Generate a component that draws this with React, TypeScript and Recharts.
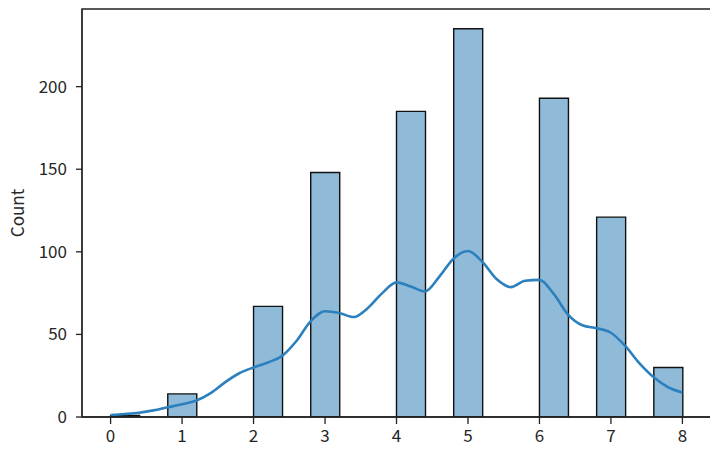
import React from 'react';
import { ComposedChart, Bar, Line, XAxis, YAxis, ReferenceArea } from 'recharts';

// Histogram: 20 bins of width 0.4 spanning 0..8
const binLower = [0, 0.4, 0.8, 1.2, 1.6, 2.0, 2.4, 2.8, 3.2, 3.6, 4.0, 4.4, 4.8, 5.2, 5.6, 6.0, 6.4, 6.8, 7.2, 7.6];
const binCounts = [1, 0, 14, 0, 0, 67, 0, 148, 0, 0, 185, 0, 235, 0, 0, 193, 0, 121, 0, 30];

// KDE curve (scaled to counts)
const kdeX = [0, 0.2, 0.4, 0.6, 0.8, 1.0, 1.2, 1.4, 1.6, 1.8, 2.0, 2.2, 2.4, 2.6, 2.8, 3.0, 3.2, 3.4, 3.6, 3.8, 4.0,
  4.2, 4.4, 4.6, 4.8, 5.0, 5.2, 5.4, 5.6, 5.8, 6.0, 6.2, 6.4, 6.6, 6.8, 7.0, 7.2, 7.4, 7.6, 7.8, 8.0];
const kdeY = [1.2, 1.8, 2.6, 4.0, 5.9, 7.7, 10.0, 14.5, 21, 26.5, 30, 33, 37, 46, 58, 64, 63, 60.5, 66, 75, 81.5,
  79, 76, 85, 96, 100.5, 94, 83.5, 78.6, 82.5, 83, 74.5, 62, 55.5, 53.7, 51, 43, 32.5, 24, 18, 14.8];

const xTicks = [0, 1, 2, 3, 4, 5, 6, 7, 8];
const yTicks = [0, 50, 100, 150, 200];
const xDomain = [-0.4, 8.4];
const yDomain = [0, 247];

const binWidth = 0.4;
// pad one empty bin on each side so the band axis spans -0.4..8.4
const histData = [
  { bin: 'pad-left', count: null as number | null },
  ...binLower.map((lo, i) => ({ bin: `${lo.toFixed(1)}-${(lo + binWidth).toFixed(1)}`, count: binCounts[i] > 0 ? binCounts[i] : null })),
  { bin: 'pad-right', count: null as number | null },
];
const kdeData = kdeX.map((x, i) => ({ x, v: kdeY[i] }));

const FONT = '"Noto Sans CJK JP", "Noto Sans", sans-serif';
const TEXT = '#262626';

const CountLabel = (props: any) => {
  const vb = props.viewBox || {};
  const cx = 16.5;
  const cy = (vb.y ?? 0) + (vb.height ?? 0) / 2;
  return (
    <text x={cx} y={cy} transform={`rotate(-90, ${cx}, ${cy})`} textAnchor="middle" dominantBaseline="central"
      fontFamily={FONT} fontSize={17} fill={TEXT}>Count</text>
  );
};

export default function App() {
  return (
    <div style={{ marginLeft: -8, marginTop: -8, width: 718, height: 452, background: '#fff' }}>
      <ComposedChart width={718} height={452} data={histData} margin={{ top: 9, right: 7, bottom: 0, left: 0 }}
        barCategoryGap={0} barGap={0}>
        <XAxis xAxisId="cat" dataKey="bin" type="category" hide height={0} />
        <XAxis xAxisId="num" dataKey="x" type="number" domain={xDomain} ticks={xTicks} allowDataOverflow
          height={35} interval={0}
          tickSize={7} tickMargin={6}
          axisLine={{ stroke: '#222', strokeWidth: 1.3 }}
          tickLine={{ stroke: '#222', strokeWidth: 1.3 }}
          tick={{ fill: TEXT, fontSize: 17, fontFamily: FONT }} />
        <YAxis type="number" domain={yDomain} ticks={yTicks} allowDataOverflow width={82} interval={0}
          tickSize={6} tickMargin={9}
          axisLine={{ stroke: '#222', strokeWidth: 1.3 }}
          tickLine={{ stroke: '#222', strokeWidth: 1.3 }}
          tick={{ fill: TEXT, fontSize: 17, fontFamily: FONT }}
          label={<CountLabel />} />
        <ReferenceArea xAxisId="num" x1={xDomain[0]} x2={xDomain[1]} y1={yDomain[0]} y2={yDomain[1]}
          fill="none" fillOpacity={0} stroke="#222" strokeWidth={1.3} ifOverflow="visible" />
        <Bar xAxisId="cat" dataKey="count" fill="#1f77b4" fillOpacity={0.5} stroke="#111" strokeWidth={1.4}
          isAnimationActive={false} />
        <Line xAxisId="num" data={kdeData} dataKey="v" type="monotone" stroke="#2b80bd" strokeWidth={2.6}
          dot={false} activeDot={false} isAnimationActive={false} />
      </ComposedChart>
    </div>
  );
}
